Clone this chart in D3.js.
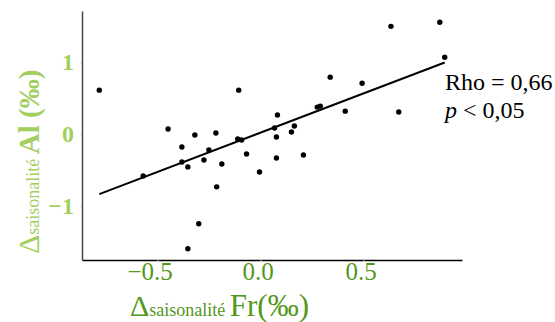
<!DOCTYPE html>
<html><head><meta charset="utf-8">
<script src="https://cdn.jsdelivr.net/npm/d3@7"></script>
<style>body{margin:0;background:#fff;} text{font-family:"Liberation Serif","Times New Roman",serif;}</style>
</head><body><svg id="c" width="555" height="322"></svg>
<script>
const frDelta = [-0.783,-0.570,-0.449,-0.382,-0.382,-0.353,-0.353,-0.319,-0.300,-0.275,-0.251,-0.217,-0.213,-0.188,-0.106,-0.111,-0.092,-0.068,-0.005,0.068,0.077,0.077,0.082,0.150,0.164,0.208,0.275,0.290,0.338,0.411,0.493,0.633,0.671,0.870,0.894];
const alDelta = [0.611,-0.583,0.069,-0.181,-0.389,-0.458,-1.597,-0.014,-1.25,-0.361,-0.222,0.014,-0.736,-0.417,0.611,-0.069,-0.083,-0.278,-0.528,0.083,-0.042,-0.333,0.264,0.028,0.111,-0.292,0.375,0.389,0.792,0.319,0.708,1.5,0.306,1.556,1.069];
const xTicks = [-0.5, 0, 0.5];
const xTickLabels = ["\u22120.5", "0.0", "0.5"];
const yTicks = [-1, 0, 1];
const yTickLabels = ["\u22121", "0", "1"];
const statLines = ["Rho = 0,66", "p < 0,05"];

const svg = d3.select("#c");
const L = 82, R = 462, T = 11, B = 260;
const ext = (a) => { const [lo, hi] = d3.extent(a); const p = (hi - lo) * 0.05; return [lo - p, hi + p]; };
const x = d3.scaleLinear().domain(ext(frDelta)).range([L, R]);
const y = d3.scaleLinear().domain(ext(alDelta)).range([B, T]);

const lightG = "#a2cf5f", darkG = "#53981a";

// axes
const xa = svg.append("g").attr("transform", `translate(0,${B})`)
  .call(d3.axisBottom(x).tickValues(xTicks).tickSize(2).tickSizeOuter(0).tickFormat((d,i)=>xTickLabels[i]));
xa.select(".domain").attr("stroke", "#000").attr("stroke-width", 1.5);
xa.selectAll(".tick line").attr("stroke", "#ccc");
xa.selectAll(".tick text").attr("fill", darkG).attr("font-size", 25).attr("dy", "0.6em")
  .attr("dx", d => d < 0 ? -8 : -3);

const ya = svg.append("g").attr("transform", `translate(${L},0)`)
  .call(d3.axisLeft(y).tickValues(yTicks).tickSize(2).tickSizeOuter(0).tickFormat((d,i)=>yTickLabels[i]));
ya.select(".domain").attr("stroke", "#444").attr("stroke-width", 1.5);
ya.selectAll(".tick line").attr("stroke", "#ccc");
ya.selectAll(".tick text").attr("fill", lightG).attr("font-size", 24).attr("font-weight", "bold")
  .attr("x", -8).attr("dy", "0.3em");

// regression line (least squares)
const mx = d3.mean(frDelta), my = d3.mean(alDelta);
let sxy = 0, sxx = 0;
frDelta.forEach((v, i) => { sxy += (v - mx) * (alDelta[i] - my); sxx += (v - mx) ** 2; });
const slope = sxy / sxx, icpt = my - slope * mx;
const [x0, x1] = d3.extent(frDelta);
svg.append("line").attr("x1", x(x0)).attr("y1", y(icpt + slope * x0))
  .attr("x2", x(x1)).attr("y2", y(icpt + slope * x1))
  .attr("stroke", "#000").attr("stroke-width", 2);

// points
svg.append("g").selectAll("circle").data(frDelta).join("circle")
  .attr("cx", d => x(d)).attr("cy", (d, i) => y(alDelta[i])).attr("r", 2.7).attr("fill", "#000");

// stats
svg.append("text").attr("x", 445).attr("y", 90).attr("font-size", 24).attr("fill", "#000").text(statLines[0]);
const t2 = svg.append("text").attr("x", 445).attr("y", 118).attr("font-size", 24).attr("fill", "#000");
t2.append("tspan").attr("font-style", "italic").text("p");
t2.append("tspan").text(statLines[1].slice(1));

// x title
const xt = svg.append("text").attr("x", 130).attr("y", 316).attr("fill", darkG);
xt.append("tspan").attr("font-size", 30).text("\u0394");
xt.append("tspan").attr("font-size", 18).text("saisonalité ");
xt.append("tspan").attr("font-size", 31).text("Fr(\u2030)");

// y title
const yt = svg.append("text").attr("transform", "translate(39,254) rotate(-90)").attr("fill", lightG);
yt.append("tspan").attr("font-size", 30).text("\u0394");
yt.append("tspan").attr("font-size", 18).text("saisonalité ");
yt.append("tspan").attr("font-size", 29).attr("font-weight", "bold").text("Al (\u2030)");
</script></body></html>
